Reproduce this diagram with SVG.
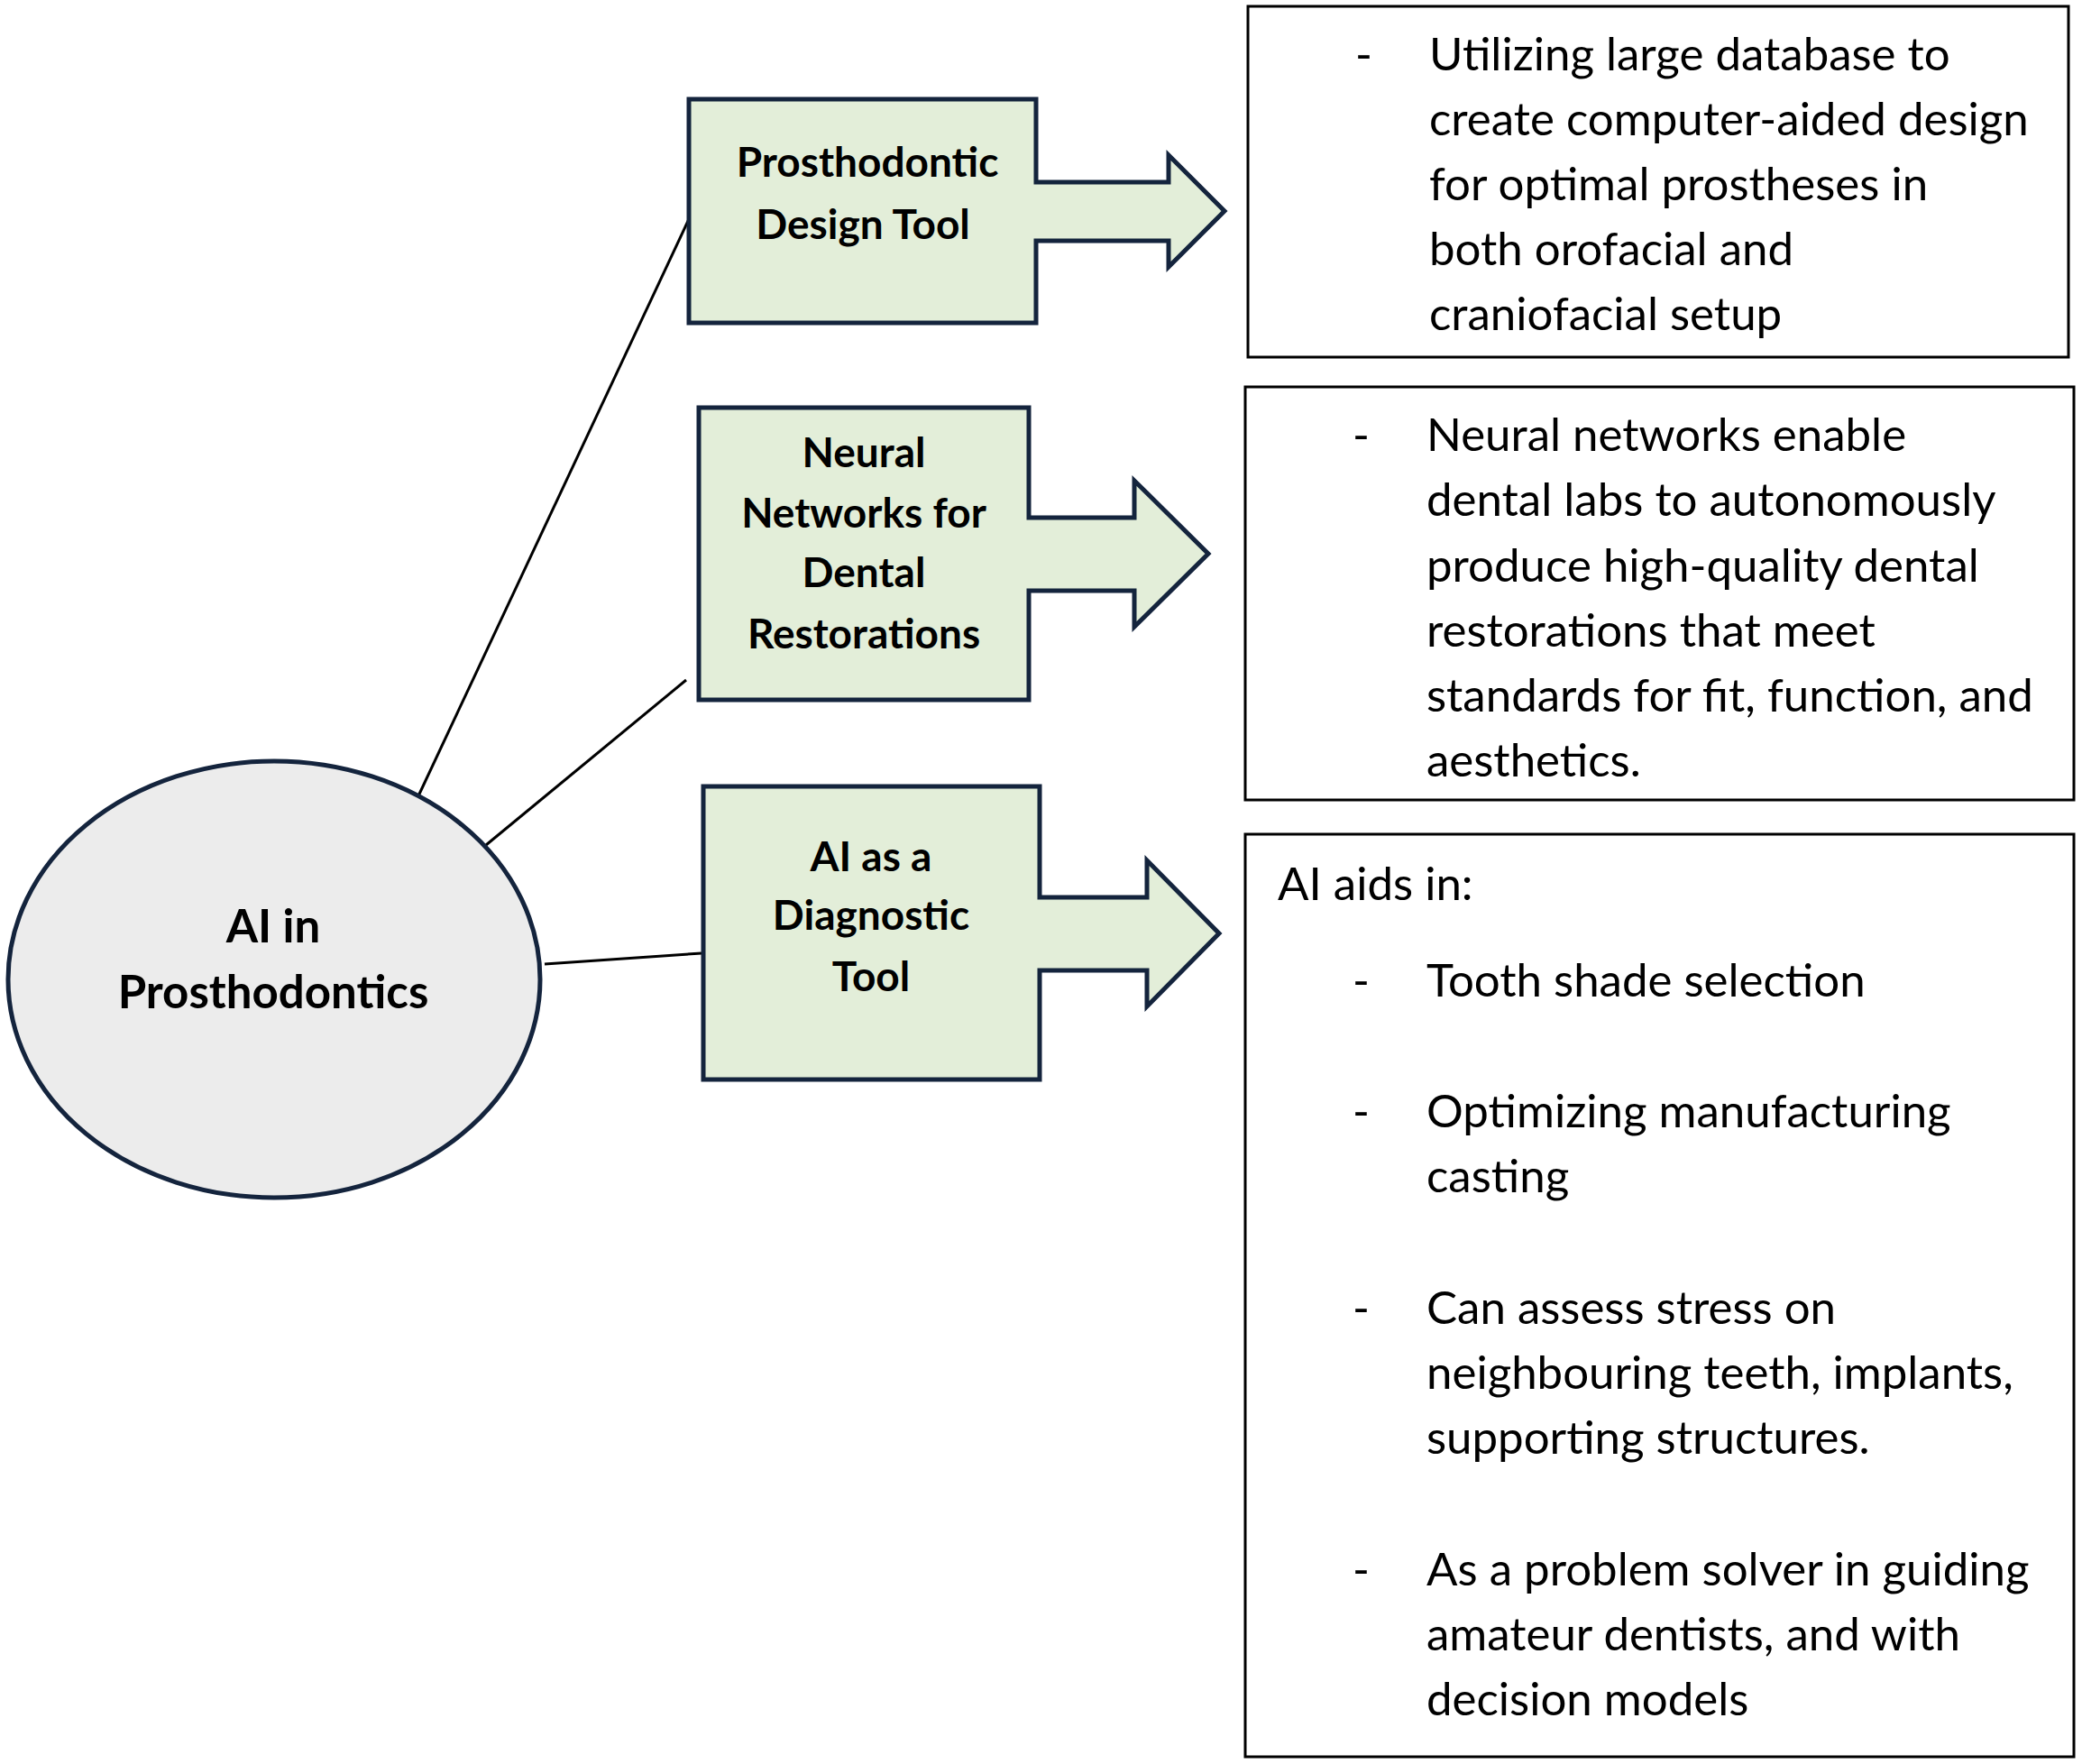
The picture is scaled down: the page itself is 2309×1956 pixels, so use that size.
<svg xmlns="http://www.w3.org/2000/svg" width="2309" height="1956" viewBox="0 0 2309 1956">
<style>
.node{fill:#e3eed9;stroke:#14243d;stroke-width:5;stroke-linejoin:miter}
.hub{fill:#ececec;stroke:#14243d;stroke-width:5}
.tbox{fill:#ffffff;stroke:#000000;stroke-width:3}
.conn{stroke:#000000;stroke-width:3;fill:none}
.lbl{font-family:Lato,"Open Sans","Liberation Sans",sans-serif;font-weight:bold;font-size:46px;fill:#000;text-anchor:middle}
.hlbl{font-size:51px}
.body{font-family:Lato,"Open Sans","Liberation Sans",sans-serif;font-size:51px;fill:#000}
</style>
<rect width="2309" height="1956" fill="#ffffff"/>
<g id="connectors">
<line class="conn" x1="461" y1="889" x2="764" y2="243"/>
<line class="conn" x1="539" y1="937" x2="761" y2="754"/>
<line class="conn" x1="604" y1="1069" x2="778" y2="1057"/>
</g>
<g id="hub">
<ellipse class="hub" cx="304" cy="1086" rx="295" ry="242"/>
<text class="lbl hlbl" x="303" y="1045">AI in</text>
<text class="lbl hlbl" x="303" y="1118">Prosthodontics</text>
</g>
<g id="node-design">
<path class="node" d="M764,110 H1149 V202 H1296 V172 L1358,234 L1296,296 V267 H1149 V358 H764 Z"/>
<text class="lbl" x="962" y="196">Prosthodontic</text>
<text class="lbl" x="957" y="265">Design Tool</text>
</g>
<g id="node-neural">
<path class="node" d="M775,452 H1141 V574 H1258 V533 L1340,614 L1258,695 V655 H1141 V776 H775 Z"/>
<text class="lbl" x="958" y="518">Neural</text>
<text class="lbl" x="958" y="585">Networks for</text>
<text class="lbl" x="958" y="651">Dental</text>
<text class="lbl" x="958" y="719">Restorations</text>
</g>
<g id="node-diagnostic">
<path class="node" d="M780,872 H1153 V995 H1272 V954 L1352,1035 L1272,1116 V1076 H1153 V1197 H780 Z"/>
<text class="lbl" x="966" y="966">AI as a</text>
<text class="lbl" x="966" y="1031">Diagnostic</text>
<text class="lbl" x="966" y="1099">Tool</text>
</g>
<g id="text-design">
<rect class="tbox" x="1384" y="7" width="910" height="389"/>
<text class="body" x="1503" y="78">-</text>
<text class="body" x="1585" y="78">Utilizing large database to</text>
<text class="body" x="1585" y="150">create computer-aided design</text>
<text class="body" x="1585" y="222">for optimal prostheses in</text>
<text class="body" x="1585" y="294">both orofacial and</text>
<text class="body" x="1585" y="366">craniofacial setup</text>
</g>
<g id="text-neural">
<rect class="tbox" x="1381" y="429" width="919" height="458"/>
<text class="body" x="1500" y="500">-</text>
<text class="body" x="1582" y="500">Neural networks enable</text>
<text class="body" x="1582" y="572">dental labs to autonomously</text>
<text class="body" x="1582" y="645">produce high-quality dental</text>
<text class="body" x="1582" y="717">restorations that meet</text>
<text class="body" x="1582" y="789">standards for fit, function, and</text>
<text class="body" x="1582" y="861">aesthetics.</text>
</g>
<g id="text-diagnostic">
<rect class="tbox" x="1381" y="925" width="919" height="1023"/>
<text class="body" x="1417" y="998">AI aids in:</text>
<text class="body" x="1500" y="1105">-</text>
<text class="body" x="1582" y="1105">Tooth shade selection</text>
<text class="body" x="1500" y="1250">-</text>
<text class="body" x="1582" y="1250">Optimizing manufacturing</text>
<text class="body" x="1582" y="1322">casting</text>
<text class="body" x="1500" y="1468">-</text>
<text class="body" x="1582" y="1468">Can assess stress on</text>
<text class="body" x="1582" y="1540">neighbouring teeth, implants,</text>
<text class="body" x="1582" y="1612">supporting structures.</text>
<text class="body" x="1500" y="1758">-</text>
<text class="body" x="1582" y="1758">As a problem solver in guiding</text>
<text class="body" x="1582" y="1830">amateur dentists, and with</text>
<text class="body" x="1582" y="1902">decision models</text>
</g>
</svg>
